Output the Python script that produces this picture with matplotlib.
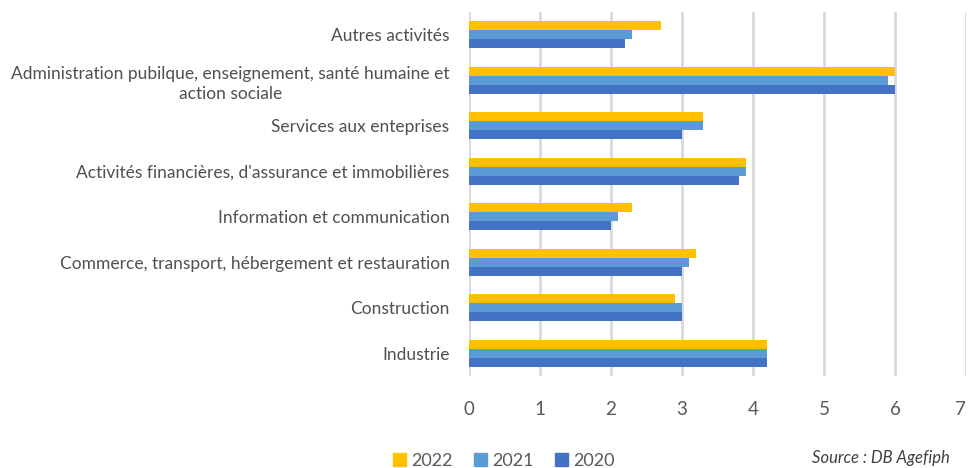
import matplotlib
matplotlib.use("Agg")
import matplotlib.pyplot as plt
from matplotlib.patches import Patch
import numpy as np

plt.rcParams['font.family'] = ['Lato', 'DejaVu Sans']

categories = [
    "Industrie",
    "Construction",
    "Commerce, transport, hébergement et restauration",
    "Information et communication",
    "Activités financières, d'assurance et immobilières",
    "Services aux enteprises",
    "Administration pubilque, enseignement, santé humaine et\naction sociale",
    "Autres activités",
]
v2022 = [4.2, 2.9, 3.2, 2.3, 3.9, 3.3, 6.0, 2.7]
v2021 = [4.2, 3.0, 3.1, 2.1, 3.9, 3.3, 5.9, 2.3]
v2020 = [4.2, 3.0, 3.0, 2.0, 3.8, 3.0, 6.0, 2.2]
series_labels = ["2022", "2021", "2020"]
colors = ["#FFC000", "#5B9BD5", "#4472C4"]

fig = plt.figure(figsize=(9.69, 4.68), dpi=100)
ax = fig.add_axes([469/969, 1-376/468, (966-469)/969, (376-12)/468])

y = np.arange(len(categories))
h = 0.2
ax.barh(y + h, v2022, height=h, color=colors[0], zorder=3)
ax.barh(y, v2021, height=h, color=colors[1], zorder=3)
ax.barh(y - h, v2020, height=h, color=colors[2], zorder=3)

ax.set_xlim(0, 7)
ax.set_ylim(-0.5, len(categories) - 0.5)
ax.set_xticks(range(0, 8))
ax.set_yticks(y)
ax.set_yticklabels(categories, fontsize=12.5, color="#505050",
                   multialignment="center", linespacing=1.3)
ax.tick_params(axis='y', length=0, pad=14)
ax.tick_params(axis='x', length=0, pad=18, labelsize=13.5, labelcolor="#595959")
ax.grid(axis='x', color="#D9D9D9", linewidth=2, zorder=0)
for s in ax.spines.values():
    s.set_visible(False)
# keep the last tick label ("7") inside the figure
ax.get_xticklabels()[-1].set_horizontalalignment('right')

handles = [Patch(color=c, label=l) for c, l in zip(colors, series_labels)]
fig.legend(handles=handles, loc='center', bbox_to_anchor=(504/969, 1-461/468),
           ncol=3, frameon=False, fontsize=13, handlelength=0.7, handleheight=0.7,
           handletextpad=0.3, columnspacing=1.2, labelcolor="#595959")

fig.text(812/969, 1-450/468, "Source : DB Agefiph", fontsize=12, style='italic',
         color="#404040", ha='left', va='top')

fig.savefig("out.png", dpi=100)
